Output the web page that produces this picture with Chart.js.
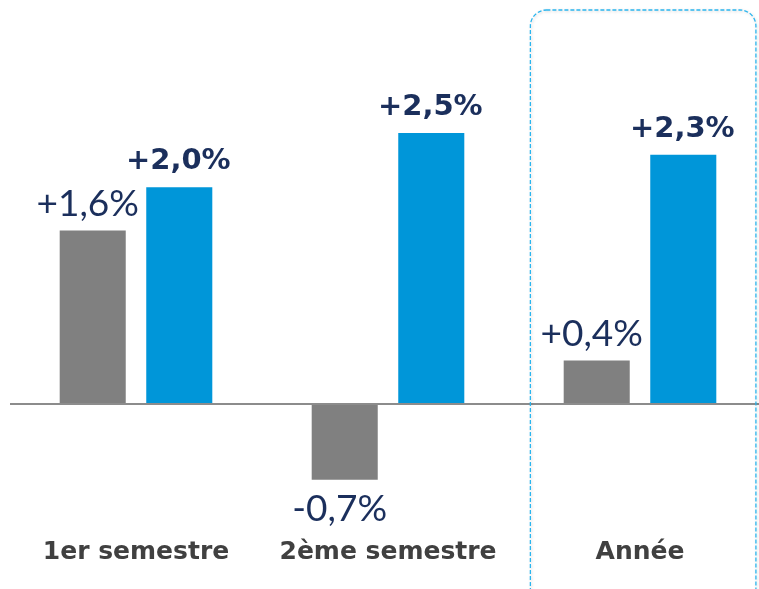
<!DOCTYPE html>
<html>
<head>
<meta charset="utf-8">
<script src="https://cdn.jsdelivr.net/npm/chart.js@4/dist/chart.umd.min.js"></script>
<style>
  html, body { margin: 0; padding: 0; background: #ffffff; overflow: hidden; }
  #wrap { position: relative; width: 766px; height: 589px; }
</style>
</head>
<body>
<div id="wrap"><canvas id="c"></canvas></div>
<script>
const categories = ['1er semestre', '2ème semestre', 'Année'];
const seriesGray = [1.6, -0.7, 0.4];
const seriesBlue = [2.0, 2.5, 2.3];
const highlightedCategory = 'Année';

const FONT_REG = 'Lato, "Open Sans", sans-serif';
const FONT_BOLD = '"DejaVu Sans", Lato, sans-serif';
const NAVY = '#1b2f5c';

function fmt(v) {
  return (v >= 0 ? '+' : '-') + Math.abs(v).toFixed(1).replace('.', ',') + '%';
}

const boxPlugin = {
  id: 'box',
  beforeDatasetsDraw(chart) {
    const xs = chart.scales.x;
    const idx = categories.indexOf(highlightedCategory);
    const cx = xs.getPixelForValue(idx);
    const bw = xs.width / categories.length;
    const left = cx - bw * 0.435, right = cx + bw * 0.46;
    const top = chart.chartArea.top + 7, bottom = chart.height + 30;
    const ctx = chart.ctx;
    ctx.save();
    ctx.shadowColor = 'rgba(0,0,0,0.18)';
    ctx.shadowBlur = 3;
    ctx.shadowOffsetX = 1;
    ctx.shadowOffsetY = 1;
    ctx.strokeStyle = '#2bb5ee';
    ctx.lineWidth = 1.3;
    ctx.setLineDash([4, 2]);
    ctx.beginPath();
    ctx.roundRect(left, top, right - left, bottom - top, 16);
    ctx.stroke();
    ctx.restore();
  }
};

const labelPlugin = {
  id: 'vlabels',
  afterDatasetsDraw(chart) {
    const ctx = chart.ctx;
    chart.data.datasets.forEach((ds, di) => {
      const meta = chart.getDatasetMeta(di);
      meta.data.forEach((el, i) => {
        const v = ds.data[i];
        ctx.save();
        ctx.fillStyle = NAVY;
        ctx.textAlign = 'center';
        ctx.font = di === 0 ? '37px ' + FONT_REG : 'bold 29px ' + FONT_BOLD;
        const dx = di === 0 ? -5 : -1;
        if (v >= 0) {
          ctx.textBaseline = 'alphabetic';
          ctx.fillText(fmt(v), el.x + dx, el.y - (di === 0 ? 15 : 18));
        } else {
          ctx.textBaseline = 'top';
          ctx.fillText(fmt(v), el.x + dx, el.y + 11);
        }
        ctx.restore();
      });
    });
  }
};

new Chart(document.getElementById('c'), {
  type: 'bar',
  data: {
    labels: categories,
    datasets: [
      { label: 'Série 1', data: seriesGray, backgroundColor: '#808080', barPercentage: 0.763, categoryPercentage: 0.687 },
      { label: 'Série 2', data: seriesBlue, backgroundColor: '#0096d9', barPercentage: 0.763, categoryPercentage: 0.687 }
    ]
  },
  options: {
    responsive: true,
    maintainAspectRatio: false,
    animation: false,
    layout: { padding: { left: 10, right: 0, top: 3, bottom: 0 } },
    plugins: { legend: { display: false }, tooltip: { enabled: false } },
    scales: {
      x: {
        grid: { display: false },
        border: { display: false },
        ticks: { color: '#404040', font: { family: FONT_BOLD, size: 25, weight: 'bold' }, padding: -5 },
        afterFit(scale) { scale.height = 55; }
      },
      y: {
        min: -1.2, max: 3.7,
        ticks: { display: false },
        border: { display: false },
        grid: {
          drawTicks: false,
          lineWidth: 2,
          color: (c) => (c.tick && c.tick.value === 0 ? '#8c8c8c' : 'rgba(0,0,0,0)')
        },
        afterFit(scale) { scale.width = 0; }
      }
    }
  },
  plugins: [boxPlugin, labelPlugin]
});
</script>
</body>
</html>
